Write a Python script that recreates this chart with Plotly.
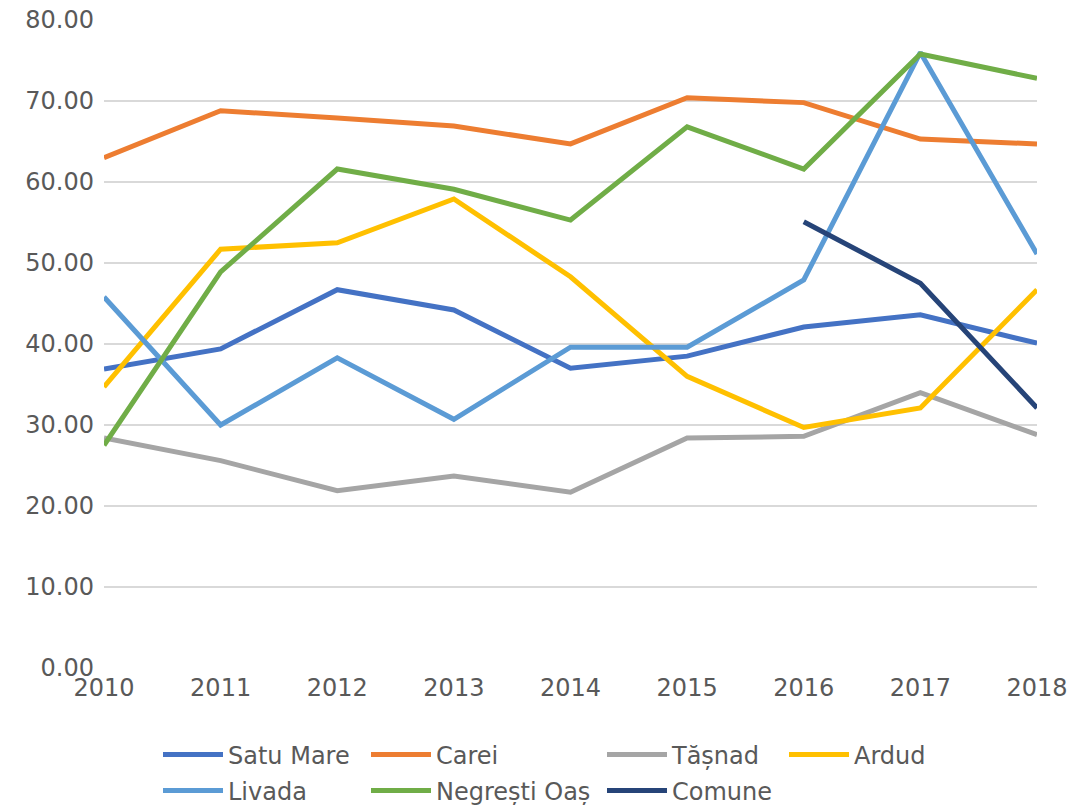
import plotly.graph_objects as go

years = [2010, 2011, 2012, 2013, 2014, 2015, 2016, 2017, 2018]
satu_mare = [36.9, 39.4, 46.7, 44.2, 37.0, 38.5, 42.1, 43.6, 40.1]
carei = [63.0, 68.8, 67.9, 66.9, 64.7, 70.4, 69.8, 65.3, 64.7]
tasnad = [28.4, 25.6, 21.9, 23.7, 21.7, 28.4, 28.6, 34.0, 28.8]
ardud = [34.7, 51.7, 52.5, 57.9, 48.3, 36.0, 29.7, 32.1, 46.7]
livada = [45.8, 30.0, 38.3, 30.7, 39.6, 39.6, 47.9, 76.0, 51.1]
negresti = [27.5, 48.9, 61.6, 59.1, 55.3, 66.8, 61.6, 75.8, 72.8]
comune = [None, None, None, None, None, None, 55.1, 47.5, 32.1]

names = ["Satu Mare", "Carei", "Tășnad", "Ardud", "Livada", "Negrești Oaș", "Comune"]
series = [satu_mare, carei, tasnad, ardud, livada, negresti, comune]
colors = ["#4472C4", "#ED7D31", "#A5A5A5", "#FFC000", "#5B9BD5", "#70AD47", "#264478"]
y_ticks = [0, 10, 20, 30, 40, 50, 60, 70, 80]

W, H = 1072, 805
# plot area in pixel coords of the reference
L, R, T, B = 104, 1037, 20, 668
leg_px = [(158, 755), (366, 755), (602, 755), (784, 755),
          (158, 791), (366, 791), (602, 791)]

fig = go.Figure()
font = dict(family="DejaVu Sans", size=24, color="#595959")
for i, (n, s, c) in enumerate(zip(names, series, colors)):
    lg = "legend" if i == 0 else f"legend{i+1}"
    fig.add_trace(go.Scatter(x=years, y=s, name=n, mode="lines",
                             line=dict(color=c, width=5),
                             legend=lg, connectgaps=False, showlegend=True))
    px, py = leg_px[i]
    fig.update_layout({lg: dict(x=(px - L) / (R - L), y=(B - py) / (B - T),
                                xanchor="left", yanchor="middle",
                                orientation="v", font=font,
                                bgcolor="rgba(0,0,0,0)", borderwidth=0,
                                itemwidth=60)})

fig.update_layout(
    width=W, height=H,
    showlegend=True,
    margin=dict(l=L, r=W - R, t=T, b=H - B, autoexpand=False),
    paper_bgcolor="white", plot_bgcolor="white",
    font=font,
    xaxis=dict(range=[2010, 2018], tickvals=years, ticktext=[str(y) for y in years],
               showgrid=False, zeroline=False, showline=False, automargin=False,
               tickfont=font, ticks="", ticklen=0, ticklabelstandoff=3),
    yaxis=dict(range=[0, 80], tickvals=y_ticks, ticktext=[f"{v:.2f}" for v in y_ticks],
               showgrid=True, gridcolor="#d9d9d9", gridwidth=1.5, automargin=False,
               zeroline=False, showline=False, tickfont=font, ticks="",
               ticklabelstandoff=9),
)
fig.write_html("out.html", config={"displayModeBar": False},
               post_script="document.body.style.margin='0';document.body.style.overflow='hidden';")
